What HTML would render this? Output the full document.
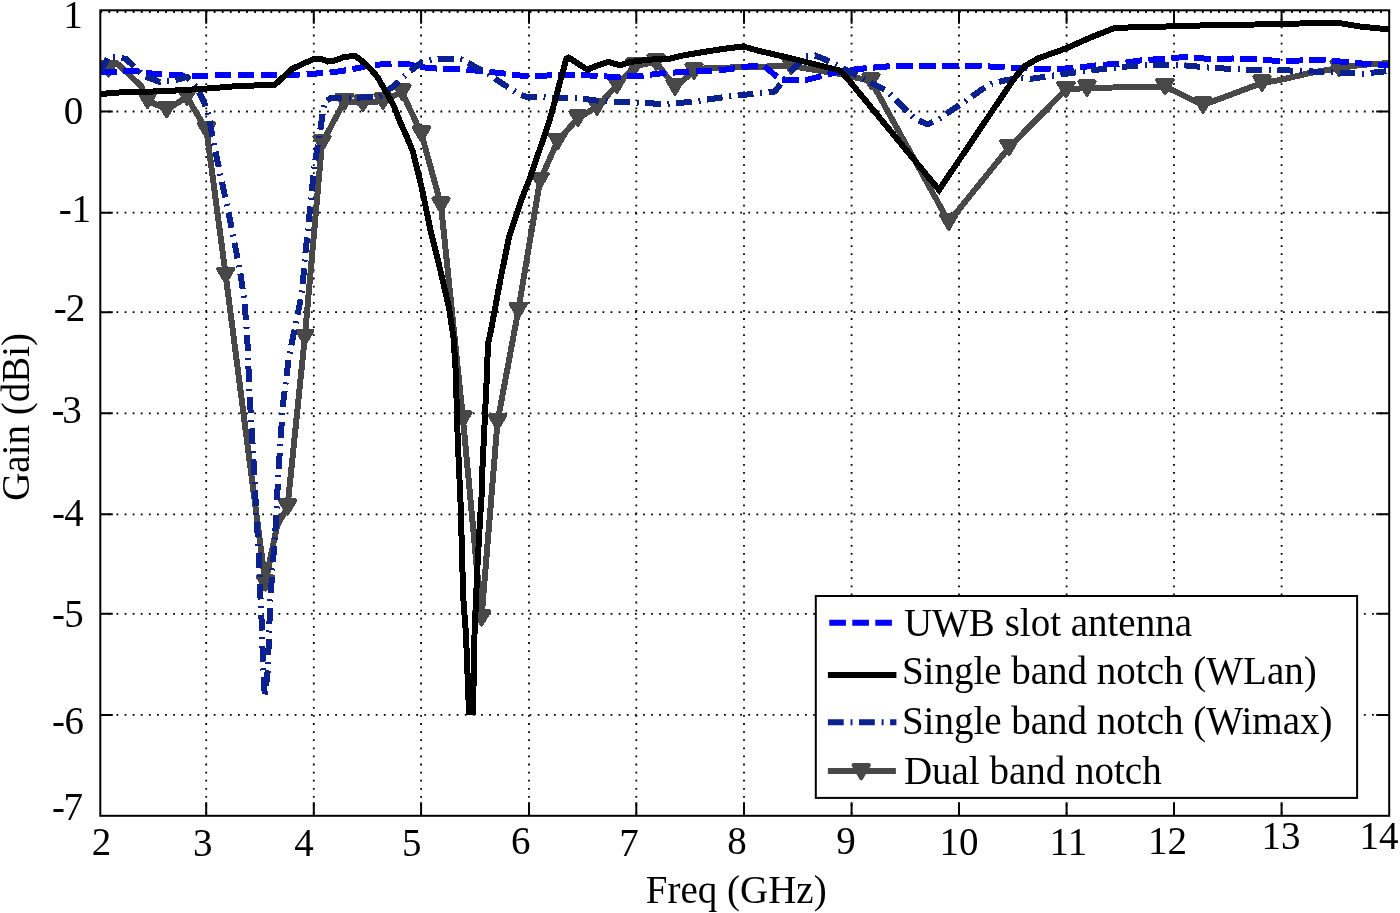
<!DOCTYPE html>
<html><head><meta charset="utf-8"><style>html,body{margin:0;padding:0;background:#fff;overflow:hidden}svg{display:block;filter:blur(0.45px)}</style></head><body>
<svg width="1400" height="913" viewBox="0 0 1400 913">
<rect width="1400" height="913" fill="#fff"/>
<path d="M206.2 10.3V815.8M313.8 10.3V815.8M421.1 10.3V815.8M529.0 10.3V815.8M636.3 10.3V815.8M744.0 10.3V815.8M851.6 10.3V815.8M959.0 10.3V815.8M1066.6 10.3V815.8M1174.0 10.3V815.8M1281.6 10.3V815.8M100.3 12.0H1389.2M100.3 111.5H1389.2M100.3 212.7H1389.2M100.3 312.2H1389.2M100.3 413.3H1389.2M100.3 514.3H1389.2M100.3 613.8H1389.2M100.3 714.9H1389.2" stroke="#000" stroke-width="1.8" stroke-dasharray="1.8 6.3" fill="none"/>
<defs><clipPath id="c"><rect x="100.3" y="10.3" width="1288.9" height="805.5"/></clipPath></defs>
<g clip-path="url(#c)" shape-rendering="crispEdges" fill="none" stroke-width="6" stroke-linejoin="miter" stroke-miterlimit="4">
<polyline points="100.0,62.5 116.0,62.5 120.0,66.0 141.0,86.0 147.5,100.3 166.7,109.6 187.0,97.0 206.5,130.0 225.7,275.3 265.3,583.0 277.0,526.0 287.5,507.0 304.8,337.2 322.0,143.0 344.5,101.5 363.0,103.0 383.0,101.0 402.0,92.0 421.5,134.0 441.0,205.0 463.0,419.0 481.5,618.0 497.5,422.0 518.3,310.3 540.0,180.5 557.5,141.5 578.0,118.0 597.0,107.0 617.0,85.0 635.0,66.0 656.0,62.0 675.0,87.0 694.0,71.0 704.0,68.5 744.0,67.0 791.0,66.0 840.0,74.0 871.0,81.0 948.8,222.0 1009.0,147.5 1066.0,89.5 1087.0,88.0 1165.0,86.5 1203.0,105.0 1262.0,83.0 1280.0,80.0 1310.0,73.0 1339.0,68.0 1360.0,65.0 1389.0,63.0" stroke="#484848"/>
<g fill="#484848" stroke="#484848" stroke-width="4" stroke-linejoin="round"><polygon points="100.6,62.3 116.0,62.3 108.3,75.5"/><polygon points="139.8,93.7 155.2,93.7 147.5,106.9"/><polygon points="159.0,103.0 174.4,103.0 166.7,116.2"/><polygon points="179.3,90.4 194.7,90.4 187.0,103.6"/><polygon points="198.8,123.4 214.2,123.4 206.5,136.6"/><polygon points="218.0,268.7 233.4,268.7 225.7,281.9"/><polygon points="257.6,576.4 273.0,576.4 265.3,589.6"/><polygon points="279.8,500.4 295.2,500.4 287.5,513.6"/><polygon points="297.1,330.6 312.5,330.6 304.8,343.8"/><polygon points="314.3,136.4 329.7,136.4 322.0,149.6"/><polygon points="336.8,94.9 352.2,94.9 344.5,108.1"/><polygon points="355.3,96.4 370.7,96.4 363.0,109.6"/><polygon points="375.3,94.4 390.7,94.4 383.0,107.6"/><polygon points="394.3,85.4 409.7,85.4 402.0,98.6"/><polygon points="413.8,127.4 429.2,127.4 421.5,140.6"/><polygon points="433.3,198.4 448.7,198.4 441.0,211.6"/><polygon points="455.3,412.4 470.7,412.4 463.0,425.6"/><polygon points="473.8,611.4 489.2,611.4 481.5,624.6"/><polygon points="489.8,415.4 505.2,415.4 497.5,428.6"/><polygon points="510.6,303.7 526.0,303.7 518.3,316.9"/><polygon points="532.3,173.9 547.7,173.9 540.0,187.1"/><polygon points="549.8,134.9 565.2,134.9 557.5,148.1"/><polygon points="570.3,111.4 585.7,111.4 578.0,124.6"/><polygon points="589.3,100.4 604.7,100.4 597.0,113.6"/><polygon points="609.3,78.4 624.7,78.4 617.0,91.6"/><polygon points="627.3,59.4 642.7,59.4 635.0,72.6"/><polygon points="648.3,55.4 663.7,55.4 656.0,68.6"/><polygon points="667.3,80.4 682.7,80.4 675.0,93.6"/><polygon points="686.3,64.4 701.7,64.4 694.0,77.6"/><polygon points="783.3,59.4 798.7,59.4 791.0,72.6"/><polygon points="863.3,74.4 878.7,74.4 871.0,87.6"/><polygon points="941.1,215.4 956.5,215.4 948.8,228.6"/><polygon points="1001.3,140.9 1016.7,140.9 1009.0,154.1"/><polygon points="1058.3,82.9 1073.7,82.9 1066.0,96.1"/><polygon points="1079.3,81.4 1094.7,81.4 1087.0,94.6"/><polygon points="1157.3,79.9 1172.7,79.9 1165.0,93.1"/><polygon points="1195.3,98.4 1210.7,98.4 1203.0,111.6"/><polygon points="1254.3,76.4 1269.7,76.4 1262.0,89.6"/><polygon points="1331.3,61.4 1346.7,61.4 1339.0,74.6"/></g>
<polyline points="100.0,71.5 122.0,71.5 138.0,71.3 144.0,73.0 167.0,74.5 190.0,76.0 213.0,75.5 240.0,75.0 275.0,75.0 300.0,74.5 325.0,73.0 335.0,72.0 351.0,69.5 365.0,66.5 380.0,64.5 397.0,63.5 410.0,64.5 420.0,67.0 441.0,69.0 464.0,69.5 480.0,71.0 500.0,73.0 520.0,75.5 533.0,76.5 547.0,75.5 570.0,75.0 590.0,75.5 615.0,77.0 640.0,76.0 660.0,73.5 690.0,71.5 714.0,71.0 730.0,69.0 752.0,66.0 764.0,66.0 781.0,80.0 806.0,80.0 820.0,76.5 838.0,72.0 858.0,69.0 880.0,67.0 900.0,65.5 940.0,65.5 980.0,66.0 1000.0,67.0 1030.0,68.5 1055.0,69.0 1075.0,68.0 1095.0,65.5 1120.0,63.5 1140.0,60.5 1160.0,59.0 1185.0,57.0 1210.0,59.0 1233.0,58.5 1255.0,59.0 1278.0,61.0 1300.0,60.5 1325.0,60.0 1345.0,62.0 1370.0,64.3 1389.0,65.0" stroke="#0000ff" stroke-dasharray="16.6 6.4"/>
<polyline points="100.0,72.0 109.0,56.0 118.0,57.0 126.0,59.0 144.0,76.0 160.0,82.0 172.0,81.0 187.0,77.0 197.0,88.0 203.0,100.0 208.0,112.0 213.0,140.0 221.3,178.9 227.9,209.6 234.4,242.4 240.0,271.0 244.3,300.0 247.2,336.0 249.5,393.6 253.0,451.0 256.5,517.8 259.0,555.6 260.3,593.4 261.5,618.6 262.8,656.5 264.8,697.0 267.9,669.0 269.1,631.2 270.4,598.5 272.9,563.2 275.4,530.4 278.0,480.0 280.6,439.6 282.9,405.0 288.6,359.0 295.6,324.5 302.4,290.6 304.6,260.0 307.8,231.5 311.0,198.6 314.4,165.7 319.9,132.9 324.3,102.0 332.0,97.5 361.0,97.5 380.0,96.5 395.0,85.0 408.0,73.0 422.0,62.0 440.0,58.5 462.0,59.5 470.0,64.0 487.0,73.0 500.0,82.0 517.0,93.0 525.0,96.5 548.0,97.5 577.0,98.0 600.0,101.0 630.0,102.5 650.0,103.0 660.0,104.5 690.0,102.0 725.0,97.0 756.0,93.5 775.0,91.5 779.0,86.0 792.0,70.0 806.0,56.0 815.0,55.5 824.0,59.0 840.0,67.0 854.0,74.0 873.0,83.8 886.3,90.4 903.8,108.0 914.8,118.9 928.0,124.4 939.0,118.9 952.0,110.0 965.2,101.4 980.5,90.4 991.5,83.8 1004.7,80.5 1020.0,78.0 1030.0,79.0 1060.0,74.5 1090.0,70.5 1120.0,67.0 1150.0,65.0 1175.0,64.5 1208.0,67.5 1240.0,69.5 1270.0,69.5 1300.0,71.0 1330.0,72.2 1363.0,73.6 1389.0,71.0" stroke="#0c2190" stroke-dasharray="15.8 6.8 2 6.5"/>
<polyline points="100.0,94.2 115.0,92.6 142.0,92.0 174.0,90.6 205.0,88.7 232.0,86.5 275.0,84.6 292.0,69.0 303.6,63.5 313.0,59.4 322.5,59.5 328.0,61.5 336.0,60.3 342.5,57.5 353.0,55.9 356.0,56.4 363.3,61.9 372.0,70.7 377.6,77.2 386.6,93.0 393.8,106.0 400.0,121.8 406.6,136.3 413.0,152.0 418.2,173.2 422.5,191.3 430.7,231.2 439.8,268.0 449.0,307.8 453.6,338.4 456.0,375.0 457.0,420.0 459.0,469.0 460.3,495.0 461.3,528.0 462.3,565.0 463.3,598.0 466.0,635.0 467.3,668.0 469.0,712.0 472.8,712.0 474.0,668.0 474.5,635.0 475.6,610.0 477.5,565.0 480.0,520.0 482.0,490.0 482.4,469.0 484.8,419.5 486.5,384.0 488.0,344.0 490.7,331.8 499.8,282.8 509.0,236.8 521.3,200.0 531.0,175.5 543.6,137.8 550.0,118.8 556.6,94.7 561.0,78.3 566.4,58.6 568.6,57.5 587.2,69.6 597.1,65.7 608.0,61.9 620.0,65.2 630.0,62.0 648.5,59.7 670.0,58.6 681.9,55.7 703.8,51.9 725.7,48.6 743.2,46.4 758.5,50.8 780.0,55.7 792.0,58.5 814.0,64.0 840.0,70.5 847.0,78.0 939.0,190.0 1005.0,92.0 1015.0,77.5 1025.0,66.0 1038.3,58.3 1066.0,48.4 1092.0,36.9 1113.5,28.4 1138.0,26.9 1160.0,26.7 1200.0,25.5 1255.0,24.5 1280.0,23.8 1300.0,23.5 1335.0,22.5 1345.0,24.0 1360.0,26.5 1375.0,28.0 1389.0,29.5" stroke="#000"/>
</g>
<path d="M206.2 815.8v-13.5M206.2 10.3v13.5M313.8 815.8v-13.5M313.8 10.3v13.5M421.1 815.8v-13.5M421.1 10.3v13.5M529.0 815.8v-13.5M529.0 10.3v13.5M636.3 815.8v-13.5M636.3 10.3v13.5M744.0 815.8v-13.5M744.0 10.3v13.5M851.6 815.8v-13.5M851.6 10.3v13.5M959.0 815.8v-13.5M959.0 10.3v13.5M1066.6 815.8v-13.5M1066.6 10.3v13.5M1174.0 815.8v-13.5M1174.0 10.3v13.5M1281.6 815.8v-13.5M1281.6 10.3v13.5M100.3 111.5h12.5M1389.2 111.5h-13M100.3 212.7h12.5M1389.2 212.7h-13M100.3 312.2h12.5M1389.2 312.2h-13M100.3 413.3h12.5M1389.2 413.3h-13M100.3 514.3h12.5M1389.2 514.3h-13M100.3 613.8h12.5M1389.2 613.8h-13M100.3 714.9h12.5M1389.2 714.9h-13" stroke="#000" stroke-width="2" fill="none"/>
<rect x="100.3" y="10.3" width="1288.9" height="805.5" stroke="#000" stroke-width="2" fill="none"/>
<g style="font-family:'Liberation Serif',serif;font-size:39px" fill="#000">
<text x="63.3" y="27.5">1</text>
<text x="63.75" y="123.6">0</text>
<text x="58.7" y="221.5">-</text>
<text x="71.5" y="221.5">1</text>
<text x="53.65" y="320.8">-</text>
<text x="65.8" y="320.8">2</text>
<text x="51.45" y="423.4">-</text>
<text x="62.2" y="423.4">3</text>
<text x="52.0" y="526.1">-</text>
<text x="64.3" y="526.1">4</text>
<text x="52.0" y="627.2">-</text>
<text x="64.35" y="627.2">5</text>
<text x="52.0" y="733.9">-</text>
<text x="64.55" y="733.9">6</text>
<text x="52.05" y="819.7">-</text>
<text x="63.5" y="819.7">7</text>
<text x="91.85" y="855.4">2</text>
<text x="193" y="855.8">3</text>
<text x="294.3" y="855.5">4</text>
<text x="401.9" y="855.8">5</text>
<text x="510.95" y="854.4">6</text>
<text x="619.35" y="855.8">7</text>
<text x="727.2" y="854.4">8</text>
<text x="836.15" y="854.4">9</text>
<text x="939.55" y="854.5">10</text>
<text x="1049.6" y="854.5">11</text>
<text x="1148.05" y="854.2">12</text>
<text x="1261.5" y="849.2">13</text>
<text x="1359.5" y="849.2">14</text>
</g>
<text x="645.8" y="903.1" style="font-family:'Liberation Serif',serif;font-size:39px">Freq (GHz)</text>
<text transform="translate(29.2 500.8) rotate(-90)" style="font-family:'Liberation Serif',serif;font-size:39px">Gain (dBi)</text>
<rect x="815.8" y="596" width="541.3" height="201.9" fill="#fff" stroke="#000" stroke-width="2"/>
<line x1="829.3" y1="622.8" x2="896" y2="622.8" stroke="#0000ff" stroke-width="6" stroke-dasharray="16.6 6.4"/>
<line x1="827.9" y1="674.9" x2="896.4" y2="674.9" stroke="#000" stroke-width="6"/>
<line x1="827.9" y1="722.2" x2="896.4" y2="722.2" stroke="#0c2190" stroke-width="6" stroke-dasharray="15.8 6.8 2 6.5"/>
<line x1="827.9" y1="771" x2="895.9" y2="771" stroke="#484848" stroke-width="6"/>
<g fill="#484848" stroke="#484848" stroke-width="4" stroke-linejoin="round"><polygon points="853.5,765.1 868.9,765.1 861.2,778.3"/></g>
<g style="font-family:'Liberation Serif',serif;font-size:39px" fill="#000">
<text x="903.9" y="635.5">UWB slot antenna</text>
<text x="901.9" y="684.3">Single band notch (WLan)</text>
<text x="901.9" y="734">Single band notch (Wimax)</text>
<text x="903.9" y="783.5">Dual band notch</text>
</g>
</svg>
</body></html>
